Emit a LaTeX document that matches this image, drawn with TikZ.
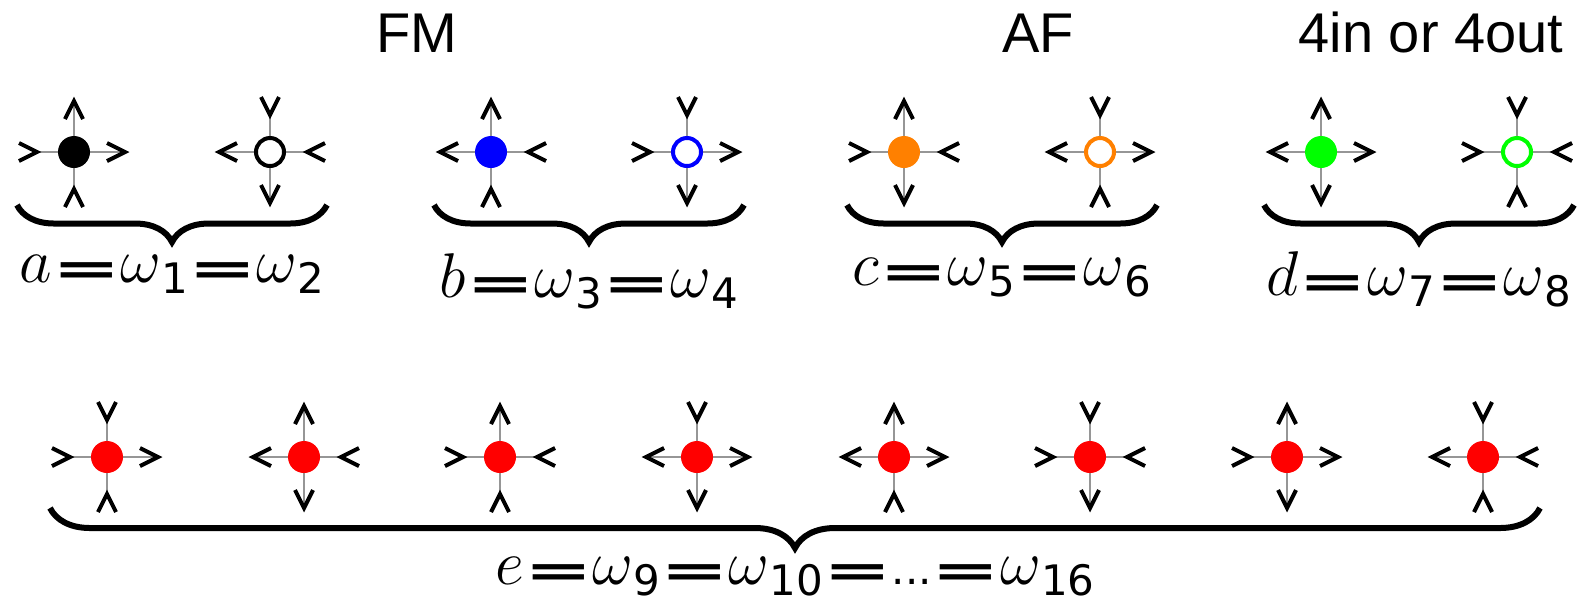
\documentclass[tikz,border=0pt]{standalone}
\usepackage{fontspec}
\setmainfont{Liberation Sans}
\newfontfamily\dejavu{DejaVu Sans}
\usetikzlibrary{decorations.pathreplacing}
\definecolor{orng}{RGB}{255,128,0}
\definecolor{grn}{RGB}{0,255,0}
\definecolor{armgray}{RGB}{150,150,150}
\tikzset{
  armline/.style={draw=armgray, line width=1pt},
  chev/.style={draw=black, line width=2pt, line cap=butt, line join=miter},
  full/.style={circle, inner sep=0pt, minimum size=16pt, fill=#1},
  hollow/.style={circle, inner sep=0pt, minimum size=14pt, draw=#1, line width=2pt, fill=white},
  brc/.style={decorate, decoration={brace, amplitude=#1}, line width=3pt},
  lbl/.style={anchor=base, inner sep=0pt},
  ttl/.style={anchor=base, inner sep=0pt, font=\fontsize{28}{30}\selectfont},
}
\newcommand\arm[3]{%
  \begin{scope}[shift={(#1)}, rotate=#2]
  \ifx#3o
    \draw[armline] (0,0) -- (52,0);
    \draw[chev] (33,9) -- (51,0) -- (33,-9);
  \else
    \draw[armline] (0,0) -- (37,0);
    \draw[chev] (55,9) -- (37,0) -- (55,-9);
  \fi
  \end{scope}}
\newcommand\vtx[7]{%
  \coordinate (#1) at #2;
  \arm{#1}{180}{#4}\arm{#1}{0}{#5}\arm{#1}{90}{#6}\arm{#1}{270}{#7}
  \node[#3] (#1c) at (#1) {};}
\newcommand\mth[1]{\scalebox{1.27}{\fontsize{24.88}{26}\selectfont$#1$}}
\newcommand\eqs{\raisebox{-1.2pt}{\scalebox{1.3}[0.72]{\dejavu\bfseries=}}}
\newcommand\sbs[1]{\raisebox{-5.5pt}{\fontsize{21}{22}\selectfont\dejavu #1}}
\newcommand\lblfont{\fontsize{31.5}{33}\selectfont}
\begin{document}
\begin{tikzpicture}[x=0.5pt,y=-0.5pt]
\useasboundingbox (0,0) rectangle (1582,602);
% titles
\node[ttl] (tfm) at (417,52) {FM};
\node[ttl] (taf) at (1038,52) {AF};
\node[ttl] (t4) at (1431,52) {4in or 4out};
% top row
\vtx{a1}{(74,152)}{full=black}{i}{o}{o}{i}
\vtx{a2}{(270,152)}{hollow=black}{o}{i}{i}{o}
\vtx{b1}{(491,152)}{full=blue}{o}{i}{o}{i}
\vtx{b2}{(687,152)}{hollow=blue}{i}{o}{i}{o}
\vtx{c1}{(904,152)}{full=orng}{i}{i}{o}{o}
\vtx{c2}{(1100,152)}{hollow=orng}{o}{o}{i}{i}
\vtx{d1}{(1321,152)}{full=grn}{o}{o}{o}{o}
\vtx{d2}{(1517,152)}{hollow=grn}{i}{i}{i}{i}
% bottom row
\vtx{e1}{(107,457)}{full=red}{i}{o}{i}{i}
\vtx{e2}{(304,457)}{full=red}{o}{i}{o}{o}
\vtx{e3}{(500,457)}{full=red}{i}{i}{o}{i}
\vtx{e4}{(697,457)}{full=red}{o}{o}{i}{o}
\vtx{e5}{(894,457)}{full=red}{o}{o}{o}{i}
\vtx{e6}{(1090,457)}{full=red}{i}{i}{i}{o}
\vtx{e7}{(1287,457)}{full=red}{i}{o}{o}{o}
\vtx{e8}{(1483,457)}{full=red}{o}{i}{i}{i}
% braces
\coordinate (bal) at (17,205);  \coordinate (bar) at (327,205);
\coordinate (bbl) at (434,205); \coordinate (bbr) at (744,205);
\coordinate (bcl) at (847,205); \coordinate (bcr) at (1157,205);
\coordinate (bdl) at (1264,205);\coordinate (bdr) at (1574,205);
\coordinate (bel) at (50,508);  \coordinate (ber) at (1540,508);
\draw[brc=18.5pt] (bar) -- (bal);
\draw[brc=18.5pt] (bbr) -- (bbl);
\draw[brc=18.5pt] (bcr) -- (bcl);
\draw[brc=18.5pt] (bdr) -- (bdl);
\draw[brc=20pt] (ber) -- (bel);
% labels
\node[lbl] (la) at (172,282) {\lblfont \mth{a}\eqs\mth{\omega}\sbs{1}\eqs\mth{\omega}\sbs{2}};
\node[lbl] (lb) at (589,297) {\lblfont \mth{b}\eqs\mth{\omega}\sbs{3}\eqs\mth{\omega}\sbs{4}};
\node[lbl] (lc) at (1002,285) {\lblfont \mth{c}\eqs\mth{\omega}\sbs{5}\eqs\mth{\omega}\sbs{6}};
\node[lbl] (ld) at (1419,295) {\lblfont \mth{d}\eqs\mth{\omega}\sbs{7}\eqs\mth{\omega}\sbs{8}};
\node[lbl] (le) at (795,584) {\lblfont \mth{e}\eqs\mth{\omega}\sbs{9}\eqs\mth{\omega}\sbs{10}\eqs{\fontsize{21}{22}\selectfont\dejavu...}\eqs\mth{\omega}\sbs{16}};
\end{tikzpicture}
\end{document}
